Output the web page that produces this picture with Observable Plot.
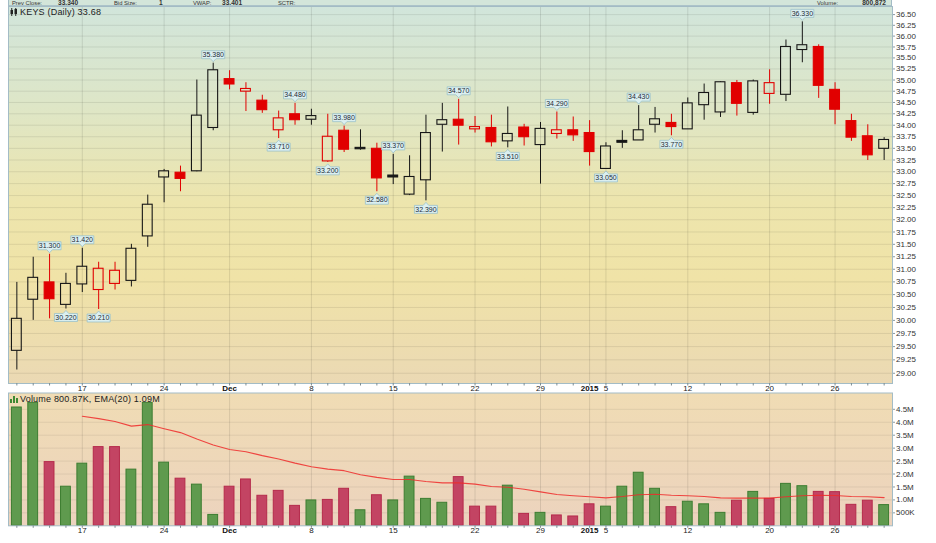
<!DOCTYPE html>
<html><head><meta charset="utf-8">
<script src="https://cdn.jsdelivr.net/npm/d3@7"></script>
<script src="https://cdn.jsdelivr.net/npm/@observablehq/plot@0.6"></script>
<style>
html,body{margin:0;padding:0;background:#fff;}
#wrap{position:relative;width:936px;height:543px;overflow:hidden;background:#fff;font-family:"Liberation Sans",Arial,sans-serif;}
#price{position:absolute;left:0;top:0;}
#volume{position:absolute;left:0;top:390px;}
#header{position:absolute;left:0;top:0;}
.legend{position:absolute;font-size:9px;line-height:10px;color:#222;white-space:nowrap;letter-spacing:0.2px;}
.legend svg{vertical-align:-1px;margin-right:2px;}
</style></head>
<body>
<div id="wrap">
 <svg width="0" height="0" style="position:absolute">
  <defs>
   <linearGradient id="priceGrad" x1="0" y1="0" x2="0" y2="1">
     <stop offset="0" stop-color="#d1e5db"/>
     <stop offset="0.25" stop-color="#dde6c8"/>
     <stop offset="0.52" stop-color="#ede5ad"/>
     <stop offset="0.72" stop-color="#f0e3a7"/>
     <stop offset="1" stop-color="#ebd9b4"/>
   </linearGradient>
   <linearGradient id="volGrad" x1="0" y1="0" x2="0" y2="1">
     <stop offset="0" stop-color="#f0dcb4"/>
     <stop offset="1" stop-color="#ecd3be"/>
   </linearGradient>
  </defs>
 </svg>
 <div id="price"></div>
 <div id="volume"></div>
 <svg id="header" width="936" height="7">
  <rect x="8" y="0" width="884" height="6" fill="#d3e5da"/>
  <line x1="8" y1="5.7" x2="892" y2="5.7" stroke="#a3bcc6" stroke-width="1"/>
  <line x1="8.5" y1="0" x2="8.5" y2="6" stroke="#a3bcc6"/>
  <line x1="891.5" y1="0" x2="891.5" y2="6" stroke="#a3bcc6"/>
  <g font-family="Liberation Sans, Arial, sans-serif" fill="#333">
   <text x="12" y="5.2" font-size="5.8">Prev Close:</text>
   <text x="58" y="5.4" font-size="6.6" font-weight="bold">33.340</text>
   <text x="114" y="5.2" font-size="5.8">Bid Size:</text>
   <text x="159" y="5.4" font-size="6.6" font-weight="bold">1</text>
   <text x="193" y="5.2" font-size="5.8">VWAP:</text>
   <text x="222" y="5.4" font-size="6.6" font-weight="bold">33.401</text>
   <text x="278" y="5.2" font-size="5.8">SCTR:</text>
   <text x="838" y="5.2" font-size="5.8" text-anchor="end">Volume:</text>
   <text x="886" y="5.4" font-size="6.6" font-weight="bold" text-anchor="end">800,872</text>
  </g>
 </svg>
 <div class="legend" style="left:10px;top:6.5px;"><svg width="8" height="8" viewBox="0 0 8 8"><rect x="0.5" y="2" width="2.5" height="4" fill="#222"/><line x1="1.75" y1="0" x2="1.75" y2="8" stroke="#222"/><rect x="4.5" y="1" width="2.5" height="5" fill="#222"/><line x1="5.75" y1="0" x2="5.75" y2="8" stroke="#222"/></svg>KEYS (Daily) 33.68</div>
 <div class="legend" style="left:10px;top:393.5px;"><svg width="8" height="8" viewBox="0 0 8 8"><rect x="0" y="4" width="2" height="4" fill="#3f8a33"/><rect x="3" y="1" width="2" height="7" fill="#3f8a33"/><rect x="6" y="3" width="2" height="5" fill="#3f8a33"/></svg>Volume 800.87K, EMA(20) 1.09M</div>
</div>
<script>
// ---- data ----
const dates = ["2014-11-11","2014-11-12","2014-11-13","2014-11-14","2014-11-17","2014-11-18","2014-11-19","2014-11-20","2014-11-21","2014-11-24","2014-11-25","2014-11-26","2014-11-28","2014-12-01","2014-12-02","2014-12-03","2014-12-04","2014-12-05","2014-12-08","2014-12-09","2014-12-10","2014-12-11","2014-12-12","2014-12-15","2014-12-16","2014-12-17","2014-12-18","2014-12-19","2014-12-22","2014-12-23","2014-12-24","2014-12-26","2014-12-29","2014-12-30","2014-12-31","2015-01-02","2015-01-05","2015-01-06","2015-01-07","2015-01-08","2015-01-09","2015-01-12","2015-01-13","2015-01-14","2015-01-15","2015-01-16","2015-01-20","2015-01-21","2015-01-22","2015-01-23","2015-01-26","2015-01-27","2015-01-28","2015-01-29"];
const open  = [29.42,30.40,30.74,30.30,30.70,30.59,30.71,30.77,31.66,32.88,32.98,33.01,33.94,35.02,34.74,34.54,33.89,34.24,34.12,33.22,33.88,33.51,33.49,32.92,32.52,32.82,34.01,34.12,33.91,33.94,33.65,33.95,33.57,33.81,33.89,33.83,33.06,33.66,33.67,34.01,34.05,33.91,34.44,34.28,34.93,34.27,34.69,34.67,35.68,35.75,34.78,34.09,33.76,33.49];
const high  = [30.74,31.24,31.30,30.92,31.42,31.14,31.14,31.50,32.51,33.05,33.12,35.00,35.38,35.21,34.94,34.66,34.31,34.48,34.35,34.24,33.98,33.90,33.61,33.37,33.34,34.22,34.48,34.57,34.19,34.22,34.40,34.02,34.06,34.29,34.18,34.10,33.62,33.88,34.43,34.39,34.24,34.60,34.91,34.96,34.99,35.00,35.23,35.91,36.33,35.80,34.94,34.24,34.01,33.73];
const low   = [29.06,30.00,30.03,30.22,30.54,30.21,30.59,30.65,31.44,32.35,32.58,33.00,33.88,34.78,34.30,34.26,33.71,34.00,34.00,33.20,33.41,33.46,32.58,32.73,32.50,32.39,33.42,33.57,33.83,33.53,33.51,33.55,32.74,33.70,33.65,33.12,33.05,33.50,33.67,33.83,33.77,33.91,34.11,34.17,34.20,34.22,34.46,34.52,35.39,34.59,34.01,33.65,33.24,33.24];
const close = [30.03,30.83,30.41,30.71,31.05,31.01,30.97,31.41,32.31,33.01,32.85,34.21,35.22,34.90,34.80,34.33,34.15,34.11,34.20,33.75,33.47,33.48,32.86,32.88,32.89,33.83,34.11,33.99,33.96,33.63,33.81,33.74,33.92,33.89,33.78,33.42,33.54,33.62,33.89,34.13,33.96,34.48,34.71,34.95,34.47,34.97,34.93,35.75,35.79,34.87,34.34,33.73,33.35,33.68];
const volume = [4.57,4.75,2.46,1.51,2.40,3.04,3.04,2.17,4.75,2.44,1.82,1.59,0.42,1.51,1.79,1.16,1.35,0.77,0.98,1.00,1.43,0.60,1.18,0.98,1.90,1.04,0.89,1.88,0.74,0.74,1.55,0.46,0.50,0.40,0.36,0.83,0.74,1.51,2.05,1.43,0.72,0.93,0.83,0.50,0.97,1.31,1.04,1.62,1.53,1.31,1.30,0.81,0.97,0.80];
const ema20 = [null,null,null,null,4.23,4.14,4.03,3.85,3.91,3.75,3.60,3.35,3.12,2.95,2.86,2.71,2.58,2.42,2.28,2.19,2.13,1.97,1.87,1.79,1.79,1.71,1.66,1.66,1.61,1.52,1.49,1.41,1.31,1.21,1.16,1.12,1.08,1.13,1.20,1.22,1.18,1.16,1.13,1.08,1.07,1.07,1.07,1.12,1.16,1.18,1.17,1.13,1.12,1.09];
const highLabelDates = ["2014-11-13","2014-11-17","2014-11-28","2014-12-05","2014-12-10","2014-12-15","2014-12-19","2014-12-30","2015-01-07","2015-01-22"];
const lowLabelDates  = ["2014-11-14","2014-11-18","2014-12-04","2014-12-09","2014-12-12","2014-12-17","2014-12-24","2015-01-05","2015-01-09"];
const tickDates  = ["2014-11-17","2014-11-24","2014-12-01","2014-12-08","2014-12-15","2014-12-22","2014-12-29","2015-01-02","2015-01-05","2015-01-12","2015-01-20","2015-01-26"];
const tickLabels = ["17","24","Dec","8","15","22","29","2015","5","12","20","26"];
const boldLabels = ["Dec","2015"];
const priceTicks = [29.00,29.25,29.50,29.75,30.00,30.25,30.50,30.75,31.00,31.25,31.50,31.75,32.00,32.25,32.50,32.75,33.00,33.25,33.50,33.75,34.00,34.25,34.50,34.75,35.00,35.25,35.50,35.75,36.00,36.25,36.50];
const volTicks = [0.5,1.0,1.5,2.0,2.5,3.0,3.5,4.0,4.5];
const volTickLabels = ["500K","1.0M","1.5M","2.0M","2.5M","3.0M","3.5M","4.0M","4.5M"];

// ---- build ----
const C = dates.map((date,i)=>({date, open:open[i], high:high[i], low:low[i], close:close[i],
  volume:volume[i], ema:ema20[i], up: i===0 || close[i] >= close[i-1], filled: close[i] < open[i]}));
const BLACK = "#161616", RED = "#e10000";
const col = d => d.up ? BLACK : RED;
const labelOf = new Map(tickDates.map((d,i)=>[d,tickLabels[i]]));
const normalTicks = tickDates.filter(d=>!boldLabels.includes(labelOf.get(d)));
const strongTicks = tickDates.filter(d=>boldLabels.includes(labelOf.get(d)));
const highs = C.filter(d=>highLabelDates.includes(d.date));
const lows = C.filter(d=>lowLabelDates.includes(d.date));
const font = "'Liberation Sans', Arial, Helvetica, sans-serif";
const xScale = {type:"band", domain:dates, paddingInner:0.4, paddingOuter:0.21, round:false, label:null};

const calloutUp = {draw(ctx){ ctx.moveTo(0,-1.5); ctx.lineTo(2.8,-4.5); ctx.lineTo(11.5,-4.5); ctx.lineTo(11.5,-12.5); ctx.lineTo(-11.5,-12.5); ctx.lineTo(-11.5,-4.5); ctx.lineTo(-2.8,-4.5); ctx.closePath(); }};
const calloutDown = {draw(ctx){ ctx.moveTo(0,1.5); ctx.lineTo(2.8,4.5); ctx.lineTo(11.5,4.5); ctx.lineTo(11.5,12.5); ctx.lineTo(-11.5,12.5); ctx.lineTo(-11.5,4.5); ctx.lineTo(-2.8,4.5); ctx.closePath(); }};

function xAxes(){
  return [
    Plot.axisX({ticks: dates, tickSize:2.5, tickFormat:()=>"", label:null, stroke:"#7d8d93"}),
    Plot.axisX({ticks: normalTicks, tickSize:0, tickPadding:1.5, tickFormat:d=>labelOf.get(d), label:null, fontSize:8, fill:"#222"}),
    Plot.axisX({ticks: strongTicks, tickSize:0, tickPadding:1.5, tickFormat:d=>labelOf.get(d), label:null, fontSize:8, fontWeight:"bold", fill:"#111"})
  ];
}

const pricePlot = Plot.plot({
  width:936, height:393, marginLeft:8, marginRight:44, marginTop:6, marginBottom:10,
  style:{background:"transparent", fontFamily:font, fontSize:"8px", color:"#333", overflow:"visible"},
  x: xScale,
  y: {type:"log", domain:[28.81,36.69], label:null},
  color: {type:"identity"},
  marks: [
    Plot.frame({fill:"url(#priceGrad)", stroke:"none"}),
    Plot.gridY({ticks: priceTicks, stroke:"#000", strokeOpacity:0.085}),
    Plot.gridX({ticks: tickDates, stroke:"#000", strokeOpacity:0.1}),
    Plot.ruleX(C, {x:"date", y1:"high", y2:d=>Math.max(d.open,d.close), stroke:col, strokeWidth:1}),
    Plot.ruleX(C, {x:"date", y1:d=>Math.min(d.open,d.close), y2:"low", stroke:col, strokeWidth:1}),
    Plot.barY(C, {x:"date", y1:"open", y2:"close", fill:d=>d.filled ? col(d) : "none", stroke:col, strokeWidth:1.1}),
    Plot.dot(highs, {x:"date", y:"high", symbol:calloutUp, r:4, fill:"#dbeff0", stroke:"#9cc2c8", strokeWidth:0.8}),
    Plot.text(highs, {x:"date", y:"high", text:d=>d.high.toFixed(3), dy:-8.5, fontSize:7, fill:"#1d2b36"}),
    Plot.dot(lows, {x:"date", y:"low", symbol:calloutDown, r:4, fill:"#dbeff0", stroke:"#9cc2c8", strokeWidth:0.8}),
    Plot.text(lows, {x:"date", y:"low", text:d=>d.low.toFixed(3), dy:8.5, fontSize:7, fill:"#1d2b36"}),
    Plot.frame({stroke:"#a3bcc6"}),
    Plot.axisY({anchor:"right", ticks:priceTicks, tickFormat:d=>d.toFixed(2), tickSize:2, tickPadding:1.5, label:null, fontSize:8, fill:"#333", stroke:"#8a9aa0"}),
    ...xAxes()
  ]
});
document.getElementById("price").appendChild(pricePlot);

const volPlot = Plot.plot({
  width:936, height:153, marginLeft:8, marginRight:44, marginTop:2.5, marginBottom:17.7,
  style:{background:"transparent", fontFamily:font, fontSize:"8px", color:"#333", overflow:"visible"},
  x: xScale,
  y: {domain:[0,5.13], label:null},
  color: {type:"identity"},
  marks: [
    Plot.frame({fill:"url(#volGrad)", stroke:"none"}),
    Plot.gridY({ticks: volTicks, stroke:"#000", strokeOpacity:0.07}),
    Plot.gridX({ticks: tickDates, stroke:"#000", strokeOpacity:0.1}),
    Plot.barY(C, {x:"date", y:"volume", fill:d=>d.up ? "#5f9a4e" : "#c34463", stroke:d=>d.up ? "#3d7d31" : "#b52a4b", strokeWidth:1}),
    Plot.line(C.filter(d=>d.ema != null), {x:"date", y:"ema", stroke:"#ee2a2a", strokeWidth:1.1, strokeOpacity:0.85}),
    Plot.frame({stroke:"#a3bcc6"}),
    Plot.axisY({anchor:"right", ticks:volTicks, tickFormat:d=>volTickLabels[volTicks.indexOf(d)], tickSize:2, tickPadding:1.5, label:null, fontSize:8, fill:"#333", stroke:"#8a9aa0"}),
    ...xAxes()
  ]
});
document.getElementById("volume").appendChild(volPlot);
</script>
</body></html>
